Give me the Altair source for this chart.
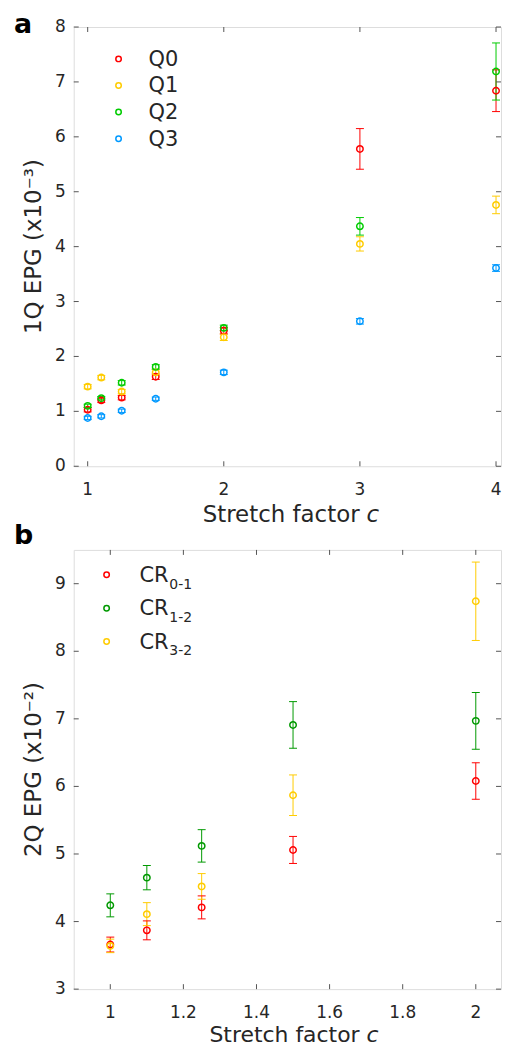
import altair as alt
import pandas as pd

FONT = "DejaVu Sans"
INK = "#262626"

# ---------------- Panel a data ----------------
stretch_a = [1, 1.1, 1.25, 1.5, 2, 3, 4]
q_names = ["Q0", "Q1", "Q2", "Q3"]
q0 = [1.03, 1.20, 1.25, 1.63, 2.47, 5.78, 6.84]
q0_err = [0.04, 0.04, 0.04, 0.05, 0.06, 0.37, 0.38]
q1 = [1.45, 1.615, 1.36, 1.71, 2.35, 4.05, 4.76]
q1_err = [0.04, 0.04, 0.04, 0.05, 0.06, 0.13, 0.16]
q2 = [1.10, 1.24, 1.52, 1.81, 2.52, 4.37, 7.19]
q2_err = [0.03, 0.03, 0.04, 0.04, 0.05, 0.16, 0.52]
q3 = [0.88, 0.91, 1.01, 1.23, 1.71, 2.64, 3.61]
q3_err = [0.03, 0.03, 0.03, 0.03, 0.04, 0.05, 0.06]
a_colors = ["#ff0000", "#ffcc00", "#00cc00", "#0099ff"]
a_xticks = [1, 2, 3, 4]
a_xlabels = ["1", "2", "3", "4"]
a_yticks = [0, 1, 2, 3, 4, 5, 6, 7, 8]
a_ylabels = ["0", "1", "2", "3", "4", "5", "6", "7", "8"]
a_ytitle = "1Q EPG (x10\u207b\u00b3)"

# ---------------- Panel b data ----------------
stretch_b = [1, 1.1, 1.25, 1.5, 2]
cr_names = ["CR0-1", "CR1-2", "CR3-2"]
cr_main = ["CR", "CR", "CR"]
cr_sub = ["0-1", "1-2", "3-2"]
cr01 = [3.66, 3.87, 4.21, 5.06, 6.08]
cr01_err = [0.11, 0.14, 0.17, 0.20, 0.27]
cr12 = [4.24, 4.65, 5.12, 6.91, 6.97]
cr12_err = [0.17, 0.18, 0.24, 0.345, 0.42]
cr32 = [3.64, 4.11, 4.52, 5.87, 8.74]
cr32_err = [0.10, 0.17, 0.19, 0.30, 0.58]
b_colors = ["#ff0000", "#009900", "#ffcc00"]
b_xticks = [1, 1.2, 1.4, 1.6, 1.8, 2]
b_xlabels = ["1", "1.2", "1.4", "1.6", "1.8", "2"]
b_yticks = [3, 4, 5, 6, 7, 8, 9]
b_ylabels = ["3", "4", "5", "6", "7", "8", "9"]
b_ytitle = "2Q EPG (x10\u207b\u00b2)"

xtitle_main = "Stretch factor"
xtitle_var = "c"


def build_df(xs, series_vals, series_errs, names):
    rows = []
    for k, (name, vals, errs) in enumerate(zip(names, series_vals, series_errs)):
        for c, v, e in zip(xs, vals, errs):
            rows.append({"c": c, "v": v, "lo": v - e, "hi": v + e, "series": name, "k": k})
    return pd.DataFrame(rows)


dfa = build_df(stretch_a, [q0, q1, q2, q3], [q0_err, q1_err, q2_err, q3_err], q_names)
dfb = build_df(stretch_b, [cr01, cr12, cr32], [cr01_err, cr12_err, cr32_err], cr_names)

W, H = 429, 441
TICK_FS = 17
TITLE_FS = 23
LEG_FS = 21


def axes_layers(xticks, xlabels, yticks, ylabels, xs, ys, ytitle, xt_base, xt_fs):
    xt = pd.DataFrame({"t": xticks, "lab": xlabels})
    yt = pd.DataFrame({"t": yticks, "lab": ylabels})
    common = dict(color="#555555", strokeWidth=1)
    X = alt.X("t:Q", scale=xs, axis=None)
    Y = alt.Y("t:Q", scale=ys, axis=None)
    layers = [
        alt.Chart(xt).mark_rule(**common).encode(x=X, y=alt.value(H), y2=alt.value(H - 5)),
        alt.Chart(xt).mark_rule(**common).encode(x=X, y=alt.value(0), y2=alt.value(5)),
        alt.Chart(yt).mark_rule(**common).encode(y=Y, x=alt.value(0), x2=alt.value(5)),
        alt.Chart(yt).mark_rule(**common).encode(y=Y, x=alt.value(W), x2=alt.value(W - 5)),
        alt.Chart(xt).mark_text(font=FONT, fontSize=TICK_FS, color=INK, align="center", baseline="top").encode(
            x=X, y=alt.value(H + 16), text="lab:N"),
        alt.Chart(yt).mark_text(font=FONT, fontSize=TICK_FS, color=INK, align="right", baseline="middle").encode(
            y=Y, x=alt.value(-8), text="lab:N"),
        alt.Chart(pd.DataFrame({"t": [ytitle]})).mark_text(
            font=FONT, fontSize=TITLE_FS, color=INK, align="center", baseline="alphabetic", angle=270).encode(
            x=alt.value(-33), y=alt.value(H / 2), text="t:N"),
        alt.Chart(pd.DataFrame({"t": [xtitle_main]})).mark_text(
            align="right", baseline="alphabetic", font=FONT, fontSize=xt_fs, color=INK).encode(
            text="t:N", x=alt.value(287), y=alt.value(xt_base)),
        alt.Chart(pd.DataFrame({"t": [xtitle_var]})).mark_text(
            align="left", baseline="alphabetic", font=FONT, fontSize=xt_fs, fontStyle="italic", color=INK).encode(
            text="t:N", x=alt.value(294), y=alt.value(xt_base)),
    ]
    return layers


def panel_label(txt, yv):
    return alt.Chart(pd.DataFrame({"t": [txt]})).mark_text(
        align="left", baseline="alphabetic", font=FONT, fontSize=27, fontWeight="bold", color="black"
    ).encode(text="t:N", x=alt.value(-60), y=alt.value(yv))


def data_layers(df, names, colors, xs, ys):
    cs = alt.Scale(domain=names, range=colors)
    X = alt.X("c:Q", scale=xs, axis=None)
    col = alt.Color("series:N", scale=cs, legend=None)
    bars = alt.Chart(df).mark_rule(strokeWidth=1).encode(
        x=X, y=alt.Y("lo:Q", scale=ys, axis=None), y2="hi:Q", color=col, order=alt.Order("k:Q"))
    cap_hi = alt.Chart(df).mark_tick(orient="horizontal", size=8, thickness=1, opacity=1).encode(
        x=X, y=alt.Y("hi:Q", scale=ys, axis=None), color=col)
    cap_lo = alt.Chart(df).mark_tick(orient="horizontal", size=8, thickness=1, opacity=1).encode(
        x=X, y=alt.Y("lo:Q", scale=ys, axis=None), color=col)
    pts = alt.Chart(df).mark_point(shape="circle", filled=False, size=42, strokeWidth=1.5, opacity=1).encode(
        x=X, y=alt.Y("v:Q", scale=ys, axis=None), color=col, order=alt.Order("k:Q"))
    return [bars, cap_hi, cap_lo, pts]


def legend_layers(mains, subs, colors, mx, tx, y0, pitch, sub_dx):
    layers = []
    for i in range(len(mains)):
        row = pd.DataFrame({"main": [mains[i]], "sub": [subs[i]]})
        yc = y0 + pitch * i
        layers.append(alt.Chart(row).mark_point(shape="circle", filled=False, size=30, strokeWidth=1.5,
                                                opacity=1, color=colors[i]).encode(
            x=alt.value(mx), y=alt.value(yc)))
        layers.append(alt.Chart(row).mark_text(align="left", baseline="alphabetic", font=FONT,
                                               fontSize=LEG_FS, color=INK).encode(
            text="main:N", x=alt.value(tx), y=alt.value(yc + 7)))
        if subs[i]:
            layers.append(alt.Chart(row).mark_text(align="left", baseline="alphabetic", font=FONT,
                                                   fontSize=14, color=INK).encode(
                text="sub:N", x=alt.value(tx + sub_dx), y=alt.value(yc + 14)))
    return layers


# Panel a
xs_a = alt.Scale(domain=[0.8976, 4.0366], nice=False, zero=False)
ys_a = alt.Scale(domain=[0, 8], nice=False, zero=False)
layers_a = data_layers(dfa, q_names, a_colors, xs_a, ys_a)
layers_a += axes_layers(a_xticks, a_xlabels, a_yticks, a_ylabels, xs_a, ys_a, a_ytitle, H + 56, TITLE_FS)
layers_a += legend_layers(q_names, ["", "", "", ""], a_colors, 45, 75, 32, 26.7, 0)
layers_a.append(panel_label("a", 6))
chart_a = alt.layer(*layers_a).properties(width=W, height=H)

# Panel b
xs_b = alt.Scale(domain=[0.9, 2.069], nice=False, zero=False)
ys_b = alt.Scale(domain=[3, 9.5], nice=False, zero=False)
layers_b = data_layers(dfb, cr_names, b_colors, xs_b, ys_b)
layers_b += axes_layers(b_xticks, b_xlabels, b_yticks, b_ylabels, xs_b, ys_b, b_ytitle, H + 53, 22)
layers_b += legend_layers(cr_main, cr_sub, b_colors, 33, 66, 25, 33.5, 30)
layers_b.append(panel_label("b", -6))
chart_b = alt.layer(*layers_b).properties(width=W, height=H)

chart = alt.vconcat(chart_a, chart_b, spacing=84, bounds="flush").resolve_scale(
    color="independent"
).properties(
    padding={"left": 5, "top": 0, "right": 0, "bottom": 0}
).configure_view(stroke=INK, strokeWidth=1).configure(background="white")

chart.save("out.html", embed_options={"renderer": "svg", "actions": False})
